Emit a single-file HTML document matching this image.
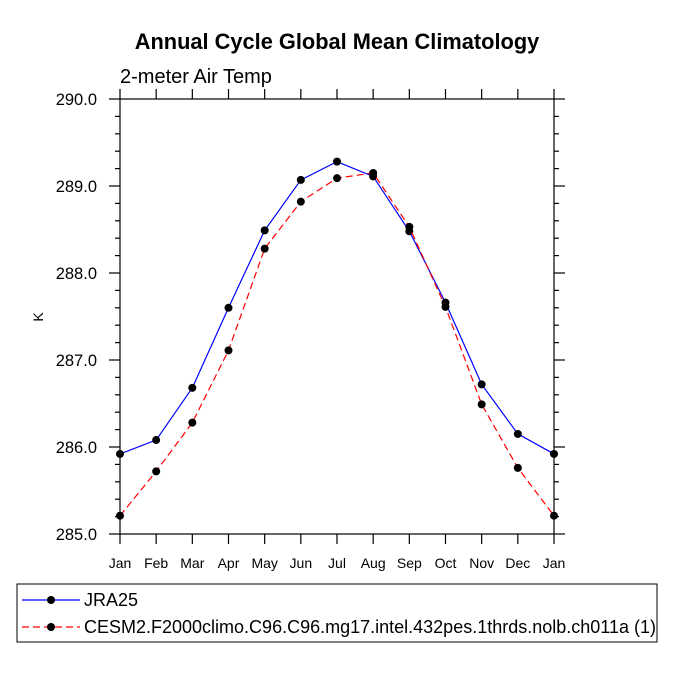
<!DOCTYPE html>
<html><head><meta charset="utf-8"><style>
body{margin:0;background:#fff}
svg text{font-family:"Liberation Sans",sans-serif;fill:#000}
</style></head><body>
<svg id="c" width="675" height="675" viewBox="0 0 675 675">
<text x="337" y="49" text-anchor="middle" font-size="21.8" font-weight="bold">Annual Cycle Global Mean Climatology</text>
<text x="120" y="83" font-size="20">2-meter Air Temp</text>
<text x="43" y="317" font-size="14" text-anchor="middle" transform="rotate(-90 43 317)">K</text>
<g id="axes"></g>
<g id="series"></g>
<rect x="17" y="584" width="640" height="58" fill="none" stroke="#000" stroke-width="1"/>
<g>
<line x1="22" y1="600" x2="80" y2="600" stroke="#0000ff" stroke-width="1.2"/>
<circle cx="51" cy="600" r="4" fill="#000"/>
<text x="84" y="606" font-size="18">JRA25</text>
</g>
<g>
<line x1="22" y1="627" x2="80" y2="627" stroke="#ff0000" stroke-width="1.2" stroke-dasharray="7,4"/>
<circle cx="51" cy="627" r="4" fill="#000"/>
<text x="84" y="633" font-size="18">CESM2.F2000climo.C96.C96.mg17.intel.432pes.1thrds.nolb.ch011a (1)</text>
</g>
</svg>
<script>
const months=["Jan","Feb","Mar","Apr","May","Jun","Jul","Aug","Sep","Oct","Nov","Dec","Jan"];
const jra25=[285.92,286.08,286.68,287.60,288.49,289.07,289.28,289.11,288.48,287.66,286.72,286.15,285.92];
const cesm2=[285.21,285.72,286.28,287.11,288.28,288.82,289.09,289.15,288.53,287.61,286.49,285.76,285.21];
const yTicks=[285.0,286.0,287.0,288.0,289.0,290.0];
const yTickLabels=["285.0","286.0","287.0","288.0","289.0","290.0"];
const X0=120,X1=554,Y0=534,Y1=99,YMIN=285,YMAX=290;
const xs=i=>X0+(X1-X0)*i/(months.length-1);
const ys=v=>Y0-(v-YMIN)/(YMAX-YMIN)*(Y0-Y1);
const NS="http://www.w3.org/2000/svg";
function mk(tag,attrs,parent){const e=document.createElementNS(NS,tag);for(const k in attrs)e.setAttribute(k,attrs[k]);parent.appendChild(e);return e;}
const ax=document.getElementById('axes');
const frame=mk('rect',{x:X0,y:Y1,width:X1-X0,height:Y0-Y1,fill:'none',stroke:'#000','stroke-width':1.2},ax);


months.forEach((m,i)=>{
  const x=xs(i);
  mk('line',{x1:x,y1:Y1,x2:x,y2:Y1-10,stroke:'#000','stroke-width':1.2},ax);
  mk('line',{x1:x,y1:Y0,x2:x,y2:Y0+10,stroke:'#000','stroke-width':1.2},ax);
  const t=mk('text',{x:x,y:Y0+34,'font-size':14,'text-anchor':'middle'},ax);
  t.textContent=m;
  
  
});
for(let v=YMIN;v<=YMAX+1e-6;v+=0.2){
  const y=ys(v);const major=Math.abs(v-Math.round(v))<1e-6;const L=major?11:5;
  mk('line',{x1:X0,y1:y,x2:X0-L,y2:y,stroke:'#000','stroke-width':1.2},ax);
  mk('line',{x1:X1,y1:y,x2:X1+L,y2:y,stroke:'#000','stroke-width':1.2},ax);
}
yTicks.forEach((v,i)=>{
  const t=mk('text',{x:97,y:ys(v)+6,'font-size':16.5,'text-anchor':'end'},ax);
  t.textContent=yTickLabels[i];
  
  
});
const sg=document.getElementById('series');
function draw(data,color,dash,name){
  const g=mk('g',{},sg);
  
  
  const pts=data.map((v,i)=>xs(i)+','+ys(v)).join(' ');
  const attrs={points:pts,fill:'none',stroke:color,'stroke-width':1.2};
  if(dash)attrs['stroke-dasharray']=dash;
  mk('polyline',attrs,g);
  data.forEach((v,i)=>{
    const c=mk('circle',{cx:xs(i),cy:ys(v),r:4,fill:'#000'},g);
    
    
  });
}
draw(jra25,'#0000ff',null,'series-jra25');
draw(cesm2,'#ff0000','7,4','series-cesm2');
</script>
</body></html>
